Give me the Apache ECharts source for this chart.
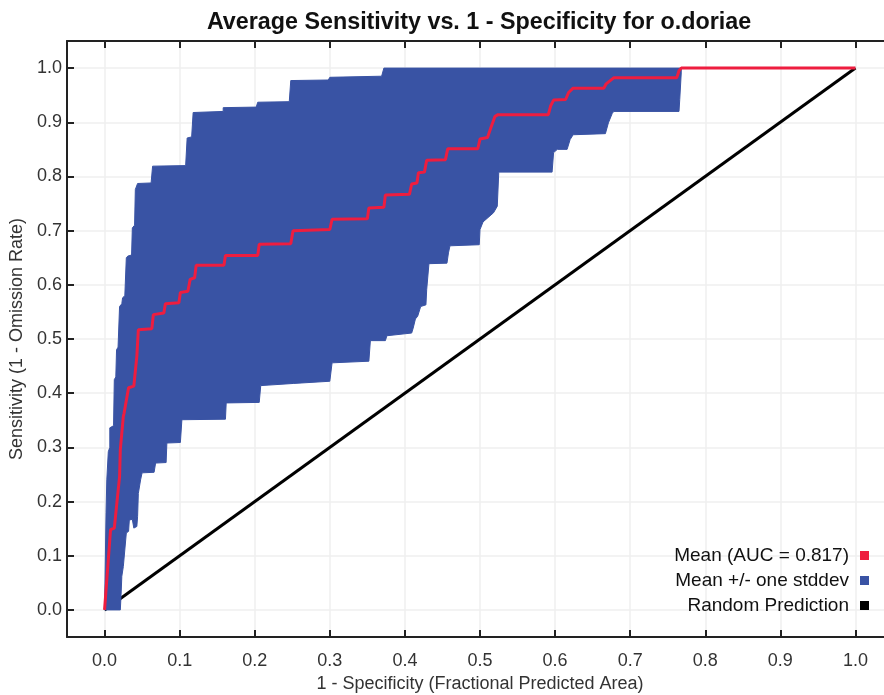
<!DOCTYPE html>
<html>
<head>
<meta charset="utf-8">
<script src="https://cdn.jsdelivr.net/npm/echarts@6/dist/echarts.min.js"></script>
<style>
  html, body { margin: 0; padding: 0; background: #fff; }
  #chart { width: 884px; height: 695px; }
</style>
</head>
<body>
<div id="chart"></div>
<script>
// tick values, both axes
var tickValues = [0.0, 0.1, 0.2, 0.3, 0.4, 0.5, 0.6, 0.7, 0.8, 0.9, 1.0]

// mean ROC curve
var meanX = [0.000, 0.008, 0.013, 0.020, 0.021, 0.025, 0.026, 0.032, 0.039, 0.043, 0.045, 0.063, 0.065, 0.079, 0.081, 0.099, 0.101, 0.111, 0.114, 0.120, 0.122, 0.159, 0.161, 0.204, 0.206, 0.248, 0.251, 0.300, 0.303, 0.350, 0.352, 0.372, 0.374, 0.406, 0.409, 0.416, 0.418, 0.426, 0.429, 0.454, 0.457, 0.497, 0.500, 0.510, 0.514, 0.520, 0.524, 0.591, 0.594, 0.598, 0.614, 0.618, 0.624, 0.665, 0.668, 0.678, 0.762, 0.765, 0.768, 1.000]
var meanY = [0.000, 0.148, 0.151, 0.246, 0.296, 0.357, 0.363, 0.410, 0.413, 0.468, 0.517, 0.519, 0.545, 0.548, 0.565, 0.567, 0.586, 0.588, 0.610, 0.613, 0.636, 0.636, 0.654, 0.654, 0.675, 0.676, 0.700, 0.702, 0.721, 0.722, 0.742, 0.743, 0.766, 0.767, 0.786, 0.788, 0.807, 0.808, 0.830, 0.831, 0.851, 0.851, 0.869, 0.872, 0.888, 0.911, 0.914, 0.914, 0.930, 0.941, 0.942, 0.955, 0.963, 0.963, 0.971, 0.982, 0.982, 0.995, 1.000, 1.000]

// upper edge of mean +/- stddev band
var upperX = [0.000, 0.002, 0.003, 0.005, 0.007, 0.007, 0.012, 0.013, 0.015, 0.016, 0.018, 0.020, 0.023, 0.024, 0.027, 0.029, 0.031, 0.036, 0.037, 0.040, 0.041, 0.044, 0.062, 0.064, 0.108, 0.110, 0.116, 0.118, 0.158, 0.158, 0.202, 0.204, 0.246, 0.248, 0.298, 0.300, 0.369, 0.372, 0.768]
var upperY = [0.000, 0.180, 0.240, 0.292, 0.300, 0.336, 0.340, 0.425, 0.430, 0.480, 0.485, 0.560, 0.565, 0.576, 0.580, 0.650, 0.653, 0.655, 0.705, 0.710, 0.776, 0.787, 0.788, 0.819, 0.820, 0.871, 0.873, 0.918, 0.920, 0.927, 0.928, 0.937, 0.938, 0.977, 0.978, 0.983, 0.985, 1.000, 1.000]

// lower edge of the band
var lowerX = [0.021, 0.022, 0.023, 0.025, 0.029, 0.032, 0.033, 0.037, 0.039, 0.043, 0.044, 0.045, 0.048, 0.050, 0.066, 0.068, 0.082, 0.083, 0.101, 0.103, 0.161, 0.162, 0.206, 0.208, 0.252, 0.300, 0.303, 0.352, 0.354, 0.374, 0.376, 0.409, 0.411, 0.414, 0.417, 0.421, 0.428, 0.429, 0.432, 0.456, 0.458, 0.460, 0.499, 0.500, 0.504, 0.518, 0.523, 0.525, 0.596, 0.598, 0.603, 0.616, 0.620, 0.624, 0.667, 0.671, 0.676, 0.678, 0.765, 0.766, 0.768, 0.768]
var lowerY = [0.000, 0.028, 0.062, 0.080, 0.142, 0.145, 0.166, 0.167, 0.151, 0.154, 0.172, 0.215, 0.240, 0.253, 0.254, 0.271, 0.272, 0.308, 0.309, 0.351, 0.352, 0.382, 0.383, 0.414, 0.418, 0.422, 0.456, 0.459, 0.497, 0.497, 0.506, 0.511, 0.520, 0.537, 0.542, 0.560, 0.563, 0.591, 0.639, 0.640, 0.659, 0.672, 0.674, 0.702, 0.716, 0.733, 0.745, 0.808, 0.808, 0.844, 0.850, 0.850, 0.868, 0.877, 0.879, 0.899, 0.916, 0.920, 0.920, 0.942, 0.991, 1.000]

// random prediction diagonal
var diagX = [0, 1]
var diagY = [0, 1]

var legendNames = ['Mean (AUC = 0.817)', 'Mean +/- one stddev', 'Random Prediction']

var RED = '#ee1d3f'
var BLUE = '#3953a4'
var FONT = 'Liberation Sans, Arial, sans-serif'

function zip (xs, ys) {
  return xs.map(function (x, i) { return [x, ys[i]] })
}

var bandUpper = zip(upperX, upperY)
var bandLower = zip(lowerX, lowerY)

function axisBase (pos, withLabel) {
  return {
    type: 'value',
    position: pos,
    min: -0.05,
    max: 1.05,
    axisLine: { show: true, onZero: false, lineStyle: { color: '#222', width: 2 } },
    axisTick: { show: true, inside: true, length: 7, customValues: tickValues, lineStyle: { color: '#222', width: 2 } },
    axisLabel: {
      show: withLabel,
      customValues: tickValues,
      color: '#333',
      fontSize: 18,
      fontFamily: FONT,
      formatter: function (v) { return v.toFixed(1) }
    },
    splitLine: { show: withLabel, lineStyle: { color: '#efefef', width: 1.5 } }
  }
}

var xBottom = axisBase('bottom', true)
xBottom.axisLabel.margin = 15
xBottom.name = '1 - Specificity (Fractional Predicted Area)'
xBottom.nameLocation = 'middle'
xBottom.nameGap = 37
xBottom.nameTextStyle = { color: '#333', fontSize: 18, fontFamily: FONT }

var xTop = axisBase('top', false)

var yLeft = axisBase('left', true)
yLeft.axisLabel.margin = 5
yLeft.name = 'Sensitivity (1 - Omission Rate)'
yLeft.nameLocation = 'middle'
yLeft.nameGap = 32
yLeft.nameTextStyle = { color: '#333', fontSize: 18, fontFamily: FONT }

var option = {
  animation: false,
  backgroundColor: '#fff',
  title: {
    text: 'Average Sensitivity vs. 1 - Specificity for o.doriae',
    left: 474,
    top: 6,
    textAlign: 'center',
    textStyle: { color: '#111', fontSize: 23.3, fontWeight: 'bold', fontFamily: FONT }
  },
  grid: { left: 67, top: 41, width: 826, height: 596, outerBoundsMode: 'none', containLabel: false },
  xAxis: [xBottom, xTop],
  yAxis: [yLeft],
  legend: {
    orient: 'vertical',
    right: 10,
    top: 541,
    align: 'right',
    itemWidth: 9,
    itemHeight: 9,
    itemGap: 6,
    selectedMode: false,
    textStyle: { color: '#111', fontSize: 19, fontFamily: FONT, lineHeight: 19, padding: [0, 6, 0, 0] },
    data: [
      { name: legendNames[0], icon: 'rect', itemStyle: { color: RED } },
      { name: legendNames[1], icon: 'rect', itemStyle: { color: BLUE } },
      { name: legendNames[2], icon: 'rect', itemStyle: { color: '#000' } }
    ]
  },
  series: [
    {
      name: legendNames[2],
      type: 'line',
      data: zip(diagX, diagY),
      symbol: 'none',
      lineStyle: { color: '#000', width: 3 },
      itemStyle: { color: '#000' },
      z: 2
    },
    {
      name: legendNames[1],
      type: 'custom',
      data: [[0, 0]],
      itemStyle: { color: BLUE },
      renderItem: function (params, api) {
        var pts = bandUpper.map(function (p) { return api.coord(p) })
        var back = bandLower.slice().reverse().map(function (p) { return api.coord(p) })
        return {
          type: 'polygon',
          shape: { points: pts.concat(back) },
          style: { fill: BLUE, stroke: BLUE, lineWidth: 1 }
        }
      },
      z: 3
    },
    {
      name: legendNames[0],
      type: 'line',
      data: zip(meanX, meanY),
      symbol: 'none',
      lineStyle: { color: RED, width: 3 },
      itemStyle: { color: RED },
      z: 4
    }
  ]
}

var chart = echarts.init(document.getElementById('chart'))
chart.setOption(option)
</script>
</body>
</html>
